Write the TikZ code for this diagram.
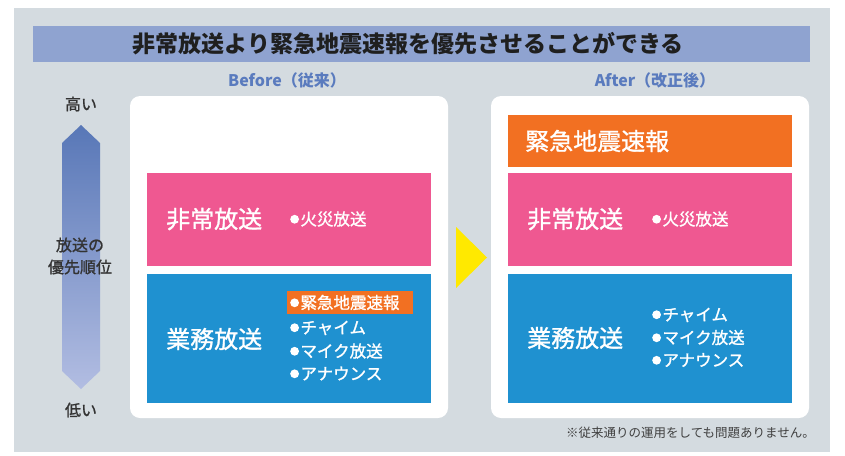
\documentclass[tikz,border=0pt]{standalone}
\usepackage{fontspec}
\setmainfont{Noto Sans CJK JP}
\newfontfamily\medfont[FakeBold=1.2]{Noto Sans CJK JP}
\newcommand{\mybul}{\tikz[baseline=-6pt]\fill (0,0) circle (4.4pt);\hspace{1.5pt}}
\begin{document}
\begin{tikzpicture}[x=1pt,y=-1pt,
  panel/.style={fill=white, rounded corners=10pt, draw=none},
  band/.style={draw=none, inner sep=0pt},
  wlab/.style={text=white, font=\medfont\fontsize{24}{27}\selectfont, anchor=west, inner sep=0pt},
  witem/.style={text=white, font=\medfont\fontsize{16.5}{19}\selectfont, anchor=west, inner sep=0pt},
  head/.style={text=headblue, font=\bfseries\fontsize{16}{19}\selectfont, inner sep=0pt},
  side/.style={text=sidegray, font=\medfont\fontsize{16}{22}\selectfont, inner sep=0pt, align=center}
]
\definecolor{bggray}{HTML}{D4DBE0}
\definecolor{banner}{HTML}{8FA3D0}
\definecolor{pinkb}{HTML}{EF5891}
\definecolor{blueb}{HTML}{1F91D0}
\definecolor{orangeb}{HTML}{F27022}
\definecolor{yel}{HTML}{FFE900}
\definecolor{headblue}{HTML}{5A7BBE}
\definecolor{sidegray}{HTML}{333333}
\definecolor{arrtop}{HTML}{5877B7}
\definecolor{arrbot}{HTML}{B2BDE2}

\useasboundingbox (0,0) rectangle (845,455);
\fill[white] (0,0) rectangle (845,455);
\fill[bggray] (14,8) rectangle (830,452);

% title banner
\node[band, fill=banner, minimum width=777pt, minimum height=36pt] (banner) at (421.5,44) {};
\node[text=black!88, font=\bfseries\fontsize{23}{26}\selectfont, inner sep=0pt] (title) at (408,44) {非常放送より緊急地震速報を優先させることができる};

% headings
\node[head] (before) at (287,80) {Before（従来）};
\node[head] (after) at (655,80) {After（改正後）};

% priority arrow
\shade[top color=arrtop, bottom color=arrbot]
  (81,125) -- (100,143) -- (100,371) -- (81,389) -- (62,371) -- (62,143) -- cycle;
\node[side] (high) at (81,104) {高い};
\node[side] (low) at (81,410) {低い};
\node[side] (prio) at (80,256) {放送の\\優先順位};

% left panel
\node[panel, minimum width=318pt, minimum height=322pt] (lpanel) at (289,257) {};
\node[band, fill=pinkb, minimum width=284pt, minimum height=93pt] (lpink) at (289,219.5) {};
\node[band, fill=blueb, minimum width=284pt, minimum height=129pt] (lblue) at (289,338.5) {};
\node[wlab] (lpinkt) at (166,219) {非常放送};
\node[witem] (lfire) at (290,219) {\mybul 火災放送};
\node[wlab] (lbluet) at (166,339) {業務放送};
\node[band, fill=orangeb, minimum width=126pt, minimum height=23pt] (lhl) at (350,302.5) {};
\node[witem] (leq) at (290,302.5) {\mybul 緊急地震速報};
\node[witem] (lch) at (290,328) {\mybul チャイム};
\node[witem] (lmic) at (290,351) {\mybul マイク放送};
\node[witem] (lann) at (290,373.5) {\mybul アナウンス};

% yellow triangle
\fill[yel] (456,227) -- (487,257.5) -- (456,288) -- cycle;

% right panel
\node[panel, minimum width=318pt, minimum height=322pt] (rpanel) at (650,257) {};
\node[band, fill=orangeb, minimum width=284pt, minimum height=52pt] (rorange) at (650,141) {};
\node[band, fill=pinkb, minimum width=284pt, minimum height=93pt] (rpink) at (650,219.5) {};
\node[band, fill=blueb, minimum width=284pt, minimum height=129pt] (rblue) at (650,338.5) {};
\node[wlab] (roranget) at (525,141) {緊急地震速報};
\node[wlab] (rpinkt) at (527,219) {非常放送};
\node[witem] (rfire) at (652,219) {\mybul 火災放送};
\node[wlab] (rbluet) at (527,338) {業務放送};
\node[witem] (rch) at (652,315) {\mybul チャイム};
\node[witem] (rmic) at (652,337.5) {\mybul マイク放送};
\node[witem] (rann) at (652,360) {\mybul アナウンス};

% footnote
\node[text=black!75, font=\fontsize{12.5}{14}\selectfont, anchor=east, inner sep=0pt] (note) at (815,433) {※従来通りの運用をしても問題ありません。};
\end{tikzpicture}
\end{document}
